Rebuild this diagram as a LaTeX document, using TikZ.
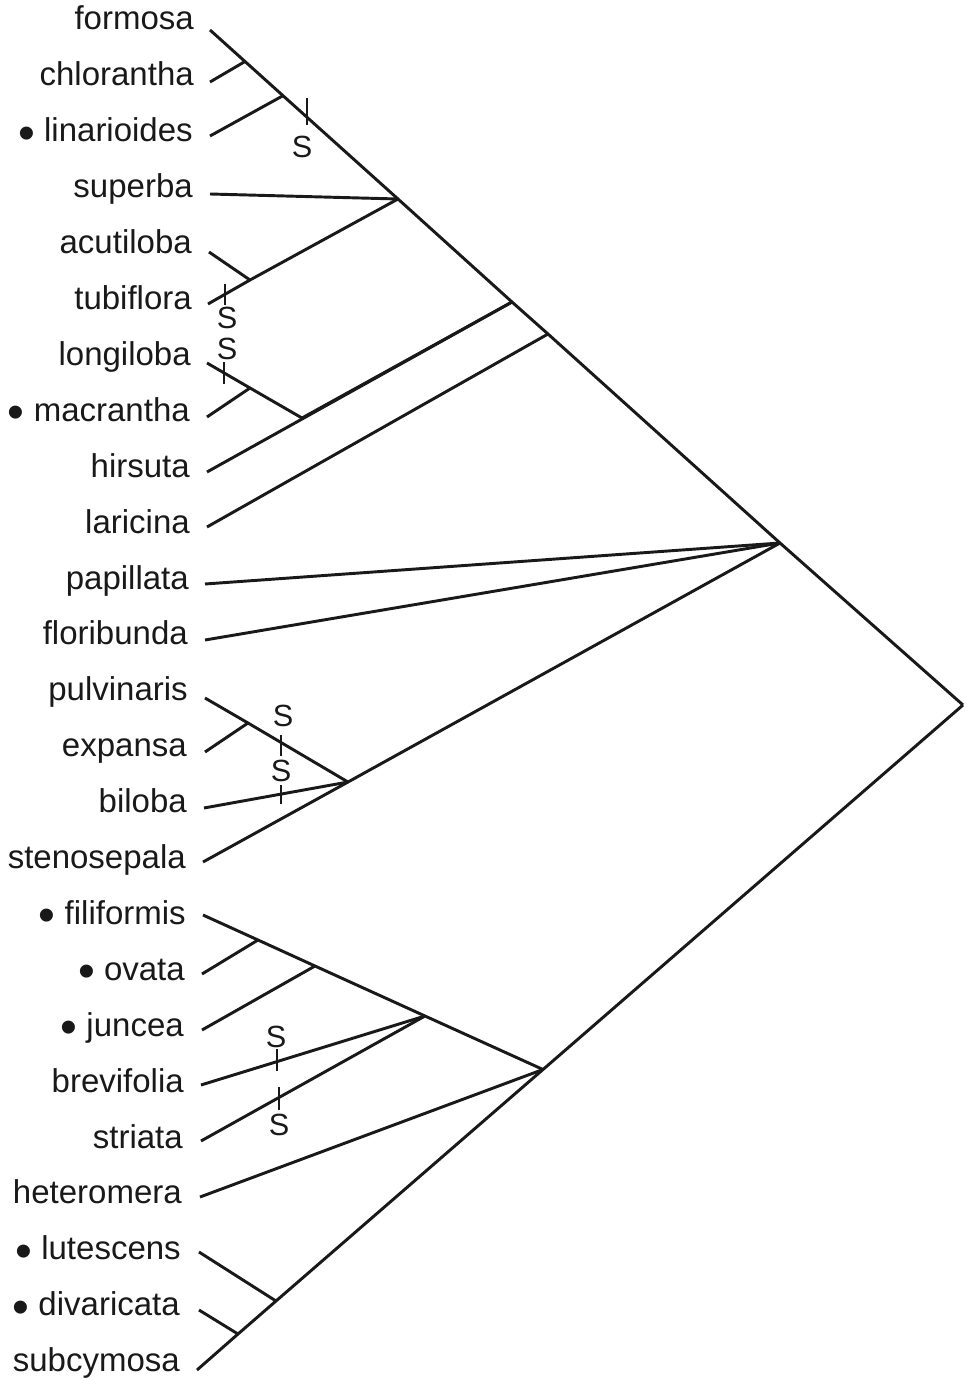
\documentclass[tikz,border=0pt]{standalone}
\usepackage{fontspec}
\setmainfont{Liberation Sans}
\newcommand{\bigdot}{\raisebox{-5.5pt}{\fontsize{36}{28}\selectfont\textbullet}}
\begin{document}
\begin{tikzpicture}[x=0.75pt,y=-0.75pt,
  lbl/.style={anchor=base east, inner sep=0pt, text=black!90, font=\fontsize{24.75}{28}\selectfont},
  smark/.style={inner sep=0pt, text=black!90, font=\fontsize{23}{26}\selectfont},
  br/.style={line width=2.2pt, black!90},
  tick/.style={line width=2.2pt, black!90}]
\useasboundingbox (0,0) rectangle (966,1380);

% labels (right edge x, baseline y)
\foreach \nm/\txt/\rx/\i in {
  n0/formosa/194/0, n1/chlorantha/194/1, n2/{\bigdot\ linarioides}/193/2,
  n3/superba/193/3, n4/acutiloba/192/4, n5/tubiflora/192/5, n6/longiloba/191/6,
  n7/{\bigdot\ macrantha}/190/7, n8/hirsuta/190/8, n9/laricina/190/9,
  n10/papillata/189/10, n11/floribunda/188/11, n12/pulvinaris/188/12,
  n13/expansa/187/13, n14/biloba/187/14, n15/stenosepala/186/15,
  n16/{\bigdot\ filiformis}/186/16, n17/{\bigdot\ ovata}/185/17,
  n18/{\bigdot\ juncea}/184/18, n19/brevifolia/184/19, n20/striata/183/20,
  n21/heteromera/182/21, n22/{\bigdot\ lutescens}/181/22,
  n23/{\bigdot\ divaricata}/180/23, n24/subcymosa/180/24}
  \node[lbl] (\nm) at (\rx,{30+55.9*\i}) {\txt};

% leaf tips
\coordinate (t0) at (210,30);
\coordinate (t1) at (210,82);
\coordinate (t2) at (210,136);
\coordinate (t3) at (210,194);
\coordinate (t4) at (209,252);
\coordinate (t5) at (208,304);
\coordinate (t6) at (207,363);
\coordinate (t7) at (207,417);
\coordinate (t8) at (207,472);
\coordinate (t9) at (207,527);
\coordinate (t10) at (205,584);
\coordinate (t11) at (205,640);
\coordinate (t12) at (205,698);
\coordinate (t13) at (205,752);
\coordinate (t14) at (204,808);
\coordinate (t15) at (203,862);
\coordinate (t16) at (203,915);
\coordinate (t17) at (202,974);
\coordinate (t18) at (202,1030);
\coordinate (t19) at (201,1085);
\coordinate (t20) at (201,1141);
\coordinate (t21) at (200,1197);
\coordinate (t22) at (199,1252);
\coordinate (t23) at (199,1310);
\coordinate (t24) at (197,1370);

% internal nodes
\coordinate (R) at (963,705);
\coordinate (P) at (780,543);
\coordinate (c1) at (245,61.5);
\coordinate (c2) at (283,95.7);
\coordinate (c3) at (398,199);
\coordinate (c4) at (512,302);
\coordinate (c5) at (548,334);
\coordinate (a1) at (250,280);
\coordinate (m1) at (302,418);
\coordinate (m2) at (250,388);
\coordinate (Q) at (348,782);
\coordinate (e1) at (248,723);
\coordinate (L) at (543,1069.5);
\coordinate (f1) at (258,940);
\coordinate (f2) at (315,966);
\coordinate (f3) at (425,1016);
\coordinate (s1) at (276,1301);
\coordinate (s2) at (238,1334);

% branches
\draw[br] (t0) -- (c1) -- (c2) -- (c3) -- (c4) -- (c5) -- (P) -- (R);
\draw[br] (t1) -- (c1);
\draw[br] (t2) -- (c2);
\draw[br] (t3) -- (c3);
\draw[br] (t4) -- (a1);
\draw[br] (t5) -- (a1) -- (c3);
\draw[br] (t6) -- (m2) -- (m1) -- (c4);
\draw[br] (t7) -- (m2);
\draw[br] (t8) -- (c4);
\draw[br] (t9) -- (c5);
\draw[br] (t10) -- (P);
\draw[br] (t11) -- (P);
\draw[br] (t12) -- (e1) -- (Q);
\draw[br] (t13) -- (e1);
\draw[br] (t14) -- (Q);
\draw[br] (t15) -- (Q) -- (P);
\draw[br] (t16) -- (f1) -- (f2) -- (f3) -- (L);
\draw[br] (t17) -- (f1);
\draw[br] (t18) -- (f2);
\draw[br] (t19) -- (f3);
\draw[br] (t20) -- (f3);
\draw[br] (t21) -- (L);
\draw[br] (R) -- (L) -- (s1) -- (s2) -- (t24);
\draw[br] (t22) -- (s1);
\draw[br] (t23) -- (s2);

% ticks and S marks
\coordinate (k1a) at (307,98);  \coordinate (k1b) at (307,125);
\draw[tick] (k1a) -- (k1b);
\node[smark] (S1) at (302,147) {S};
\coordinate (k2a) at (225,284); \coordinate (k2b) at (225,305);
\draw[tick] (k2a) -- (k2b);
\node[smark] (S2) at (227,318) {S};
\coordinate (k3a) at (224,362); \coordinate (k3b) at (224,384);
\draw[tick] (k3a) -- (k3b);
\node[smark] (S3) at (227,349) {S};
\coordinate (k4a) at (281,735); \coordinate (k4b) at (281,756);
\draw[tick] (k4a) -- (k4b);
\node[smark] (S4) at (283,716) {S};
\coordinate (k5a) at (281,785); \coordinate (k5b) at (281,804);
\draw[tick] (k5a) -- (k5b);
\node[smark] (S5) at (281,771) {S};
\coordinate (k6a) at (277,1049); \coordinate (k6b) at (277,1071);
\draw[tick] (k6a) -- (k6b);
\node[smark] (S6) at (276,1037) {S};
\coordinate (k7a) at (279,1087); \coordinate (k7b) at (279,1110);
\draw[tick] (k7a) -- (k7b);
\node[smark] (S7) at (279,1125) {S};
\end{tikzpicture}
\end{document}
